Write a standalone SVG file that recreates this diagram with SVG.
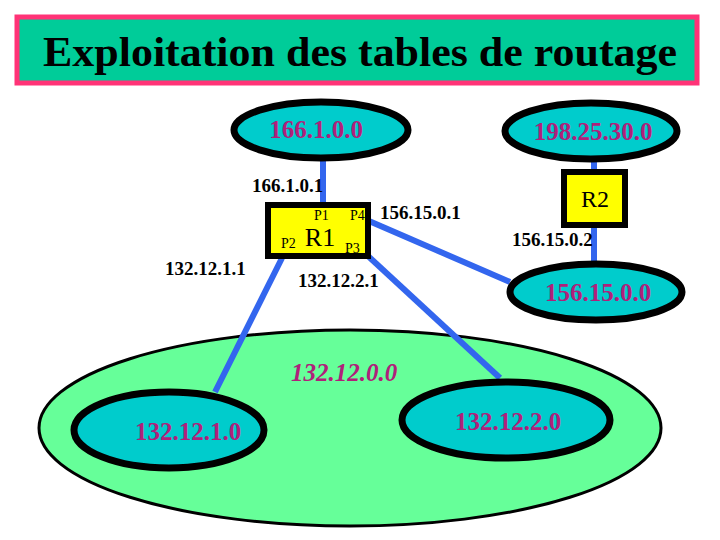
<svg xmlns="http://www.w3.org/2000/svg" width="720" height="540" viewBox="0 0 720 540">
<style>
text{font-family:'Liberation Serif','Times New Roman',Times,serif}
.net{fill:#00cccc;stroke:#000;stroke-width:7}
.netlabel{font-size:25px;font-weight:bold;fill:#b0207a;text-anchor:middle}
.lbl{font-size:19px;font-weight:bold;fill:#000}
.p{font-size:14px;fill:#000}
.rt{fill:#ffff00;stroke:#000;stroke-width:6}
.ln{stroke:#3366ee;stroke-width:6;fill:none}
</style>
<rect width="720" height="540" fill="#fff"/>
<g id="title">
<rect x="17" y="17" width="680" height="66" fill="#00cc99" stroke="#ff3377" stroke-width="5"/>
<text x="360" y="66" font-size="42" font-weight="bold" text-anchor="middle" textLength="634" lengthAdjust="spacingAndGlyphs" fill="#000">Exploitation des tables de routage</text>
</g>
<g id="n132">
<ellipse cx="350" cy="428" rx="311" ry="98" fill="#66ff99" stroke="#000" stroke-width="3"/>
<text x="344" y="381" class="netlabel" style="font-family:'Liberation Serif',serif" font-style="italic">132.12.0.0</text>
</g>
<g id="connectors">
<line class="ln" x1="323" y1="160" x2="323" y2="206"/>
<line class="ln" x1="594" y1="159" x2="594" y2="170"/>
<line class="ln" x1="594" y1="226" x2="594" y2="264"/>
<line class="ln" x1="369" y1="221" x2="510" y2="282"/>
<line class="ln" x1="368" y1="256" x2="500" y2="378"/>
<line class="ln" x1="282" y1="258" x2="215" y2="392"/>
</g>
<g id="n166"><ellipse class="net" cx="321" cy="130" rx="87" ry="28"/><text class="netlabel" style="font-family:'Liberation Serif',serif" x="316" y="138">166.1.0.0</text></g>
<g id="n198"><ellipse class="net" cx="591" cy="131" rx="86" ry="28"/><text class="netlabel" style="font-family:'Liberation Serif',serif" x="593" y="140">198.25.30.0</text></g>
<g id="n156"><ellipse class="net" cx="596" cy="292" rx="86" ry="28"/><text class="netlabel" style="font-family:'Liberation Serif',serif" x="598" y="301">156.15.0.0</text></g>
<g id="n1321"><ellipse class="net" cx="169" cy="430" rx="95" ry="38"/><text class="netlabel" style="font-family:'Liberation Serif',serif" x="188" y="440">132.12.1.0</text></g>
<g id="n1322"><ellipse class="net" cx="506" cy="420" rx="104" ry="38"/><text class="netlabel" style="font-family:'Liberation Serif',serif" x="508" y="430">132.12.2.0</text></g>
<g id="R1">
<rect class="rt" x="268" y="205" width="100" height="51"/>
<text x="320" y="246" font-size="26" fill="#000" text-anchor="middle">R1</text>
<text class="p" x="314" y="220">P1</text>
<text class="p" x="350" y="220">P4</text>
<text class="p" x="281" y="248">P2</text>
<text class="p" x="345" y="253">P3</text>
</g>
<g id="R2">
<rect class="rt" x="564" y="172" width="61" height="53"/>
<text x="595" y="207" font-size="24" fill="#000" text-anchor="middle">R2</text>
</g>
<g id="labels">
<text class="lbl" x="252" y="192">166.1.0.1</text>
<text class="lbl" x="380" y="219">156.15.0.1</text>
<text class="lbl" x="512" y="246">156.15.0.2</text>
<text class="lbl" x="165" y="275">132.12.1.1</text>
<text class="lbl" x="298" y="287">132.12.2.1</text>
</g>
</svg>
